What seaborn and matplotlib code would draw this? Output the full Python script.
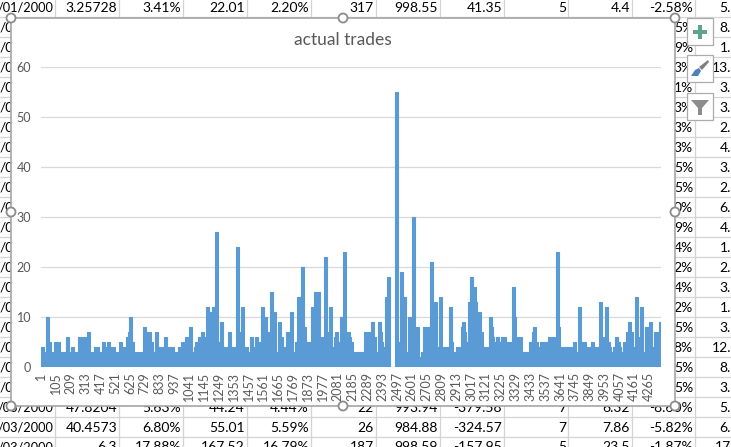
import numpy as np
import pandas as pd
import matplotlib
matplotlib.use('Agg')
import matplotlib.pyplot as plt
from matplotlib.patches import Rectangle, Circle, Polygon
import seaborn as sns

sns.set_style("white")
plt.rcParams['font.family'] = ['Lato', 'DejaVu Sans']

trade_counts = [
    4, 3, 10, 5, 2, 3, 5, 3, 6, 3, 4, 3, 6, 4, 6, 7, 2, 3, 4, 3, 5, 4, 5, 4, 3, 2, 5, 4, 3, 6, 7, 10, 5, 3, 2, 3,
    8, 7, 5, 3, 7, 2, 4, 6, 4, 3, 4, 5, 3, 6, 8, 3, 4, 5,
    6, 7, 6, 12, 11, 12, 0, 27, 5, 9, 4, 7, 4, 0, 24, 7, 6, 12, 3, 4, 3, 6, 4, 3, 6, 5, 12, 10, 3, 7, 15, 11, 3, 9,
    6, 3, 4, 7, 3, 11, 3, 5, 14, 7, 20, 8, 3, 5, 12, 15, 6, 2, 22, 7, 12, 4, 6, 7, 5, 10, 23, 3, 7, 6, 5,
    3, 7, 4, 9, 6, 3, 9, 7, 5, 4, 14, 18, 0, 55, 5, 2, 19, 14, 3, 10, 0, 30, 6, 8, 2, 3, 8, 6, 21, 6, 13, 4, 14, 3,
    4, 3, 12, 5, 3, 4, 8, 9, 7, 5, 3, 13, 18, 16, 13, 6, 11, 7, 4, 10, 8, 6, 5, 6, 5, 6, 5,
    5, 16, 10, 6, 3, 2, 3, 5, 7, 8, 5, 4, 5, 6, 4, 6, 0, 23, 8, 4, 3, 4, 5, 3, 12, 5, 4, 5, 4, 13, 4, 6, 12, 5, 4,
    3, 4, 6, 5, 4, 3, 5, 7, 9, 7, 4, 14, 6, 4, 12, 3, 8, 9, 4, 7, 9,
]
run_lengths = [
    3, 2, 3, 2, 1, 2, 6, 6, 3, 2, 3, 4, 3, 1, 5, 3, 1, 3, 5, 3, 3, 2, 3, 5, 3, 1, 3, 3, 1, 2, 1, 3, 2, 6, 1, 2,
    3, 5, 2, 2, 3, 1, 5, 3, 6, 4, 3, 3, 1, 4, 3, 2, 1, 3,
    3, 3, 2, 3, 3, 3, 0.4, 3, 2, 3, 5, 3, 4, 0.4, 3, 1, 1, 3, 1, 3, 2, 3, 1, 1, 3, 3, 3, 3, 1, 2, 3, 3, 2, 3,
    2, 1, 2, 3, 1, 3, 2, 2, 3, 1, 3, 2, 1, 4, 3, 6, 3, 1, 3, 2, 3, 2, 1, 3, 2, 3, 3, 1, 3, 1, 2,
    11, 6, 1, 3, 2, 2, 3, 1, 1, 2, 2, 3, 5, 3, 1, 1, 3, 3, 2, 3, 0.4, 3, 1, 3, 2, 2, 6, 1, 3, 1, 3, 2, 3, 1,
    5, 1, 3, 1, 3, 5, 1, 3, 1, 1, 1, 2, 3, 3, 1, 1, 3, 2, 6, 3, 1, 1, 2, 3, 2, 5, 4,
    2, 3, 1, 6, 1, 1, 5, 3, 1, 3, 2, 2, 8, 3, 1, 3, 0.4, 3, 1, 3, 1, 9, 3, 2, 3, 5, 5, 3, 5, 3, 1, 2, 3, 2, 1,
    2, 2, 3, 2, 1, 2, 3, 2, 3, 2, 2, 3, 1, 1, 3, 2, 4, 3, 2, 5, 2,
]
rows_per_unit = 7.04
tick_rows = list(range(1, 4266, 104))
y_ticks = [0, 10, 20, 30, 40, 50, 60]

# spreadsheet cells behind the chart
top_row = ['/01/2000', '3.25728', '3.41%', '22.01', '2.20%', '317', '998.55', '41.35', '5', '4.4', '-2.58%']
row_408 = ['/03/2000', '47.8204', '5.63%', '44.24', '4.44%', '22', '993.94', '-379.58', '7', '6.32', '-8.60%']
row_428 = ['/03/2000', '40.4573', '6.80%', '55.01', '5.59%', '26', '984.88', '-324.57', '7', '7.86', '-5.82%']
row_447 = ['/03/2000', '6.3', '17.88%', '167.52', '16.79%', '187', '998.59', '-157.95', '5', '23.5', '-1.87%']
side_pct = ['5%', '9%', '3%', '1%', '3%', '3%', '3%', '5%', '5%', '0%', '9%', '4%', '2%', '4%', '2%', '5%', '8%', '5%', '5%']
last_col = ['5.', '8.', '1.', '13.', '3.', '3.', '2.', '4.', '3.', '2.', '6.', '4.', '1.', '2.', '3.', '1.', '3.', '12.', '8.', '3.', '5.', '6.', '17']
col_lines = [55, 119, 183, 247, 311, 376, 440, 504, 568, 632, 695]

fig = plt.figure(figsize=(7.31, 4.47), dpi=100)

bg = fig.add_axes([0, 0, 1, 1])
bg.set_xlim(0, 731)
bg.set_ylim(447, 0)
bg.axis('off')
for x in col_lines:
    bg.axvline(x, color='#D4D4D4', lw=0.9, zorder=1)
for y in range(17, 447, 20):
    bg.axhline(y, color='#D4D4D4', lw=0.9, zorder=1)


def cell(x, y, s, ha='right', size=10):
    bg.text(x, y, s, ha=ha, va='center', fontsize=size, color='black', zorder=2)


for row_y, row in [(8, top_row), (408, row_408), (428, row_428), (447, row_447)]:
    for x, s in zip(col_lines, row):
        cell(x - 2, row_y, s, size=9.2 if x == col_lines[0] else 10)
for i in range(19):
    cell(0, 28 + 20 * i, '/0', ha='left')
    cell(693, 28 + 20 * i, side_pct[i])
for i, s in enumerate(last_col):
    cell(731, 8 + 20 * i if i < 22 else 447, s)

# chart frame, handles and side buttons
bg.add_patch(Rectangle((11, 18), 664, 388, fc='white', ec='#A6A6A6', lw=1.2, zorder=3))
for hx, hy in [(11, 18), (343, 18), (675, 18), (11, 212), (675, 212), (11, 406), (343, 406), (675, 406)]:
    bg.add_patch(Circle((hx, hy), 4.5, fc='white', ec='#8C8C8C', lw=1.3, zorder=5))
for by in [18, 55, 93]:
    bg.add_patch(Rectangle((687, by), 26, 27, fc='white', ec='#ABABAB', lw=0.9, zorder=4))
bg.add_patch(Rectangle((693, 29.5), 14, 4, fc='#5FA58C', ec='none', zorder=5))
bg.add_patch(Rectangle((698, 24.5), 4, 14, fc='#5FA58C', ec='none', zorder=5))
bg.add_patch(Polygon([[691, 76], [695, 70], [699, 68], [701, 71], [698, 76]], fc='#4F81BD', ec='none', zorder=5))
bg.add_patch(Polygon([[699, 67], [708, 60], [709, 62], [702, 70]], fc='#7F7F7F', ec='none', zorder=5))
bg.add_patch(Polygon([[691, 100], [709, 100], [702, 108], [702, 115], [698, 115], [698, 108]], fc='#8C8C8C', ec='none', zorder=5))
bg.text(343, 40, 'actual trades', ha='center', va='center', fontsize=12.5, color='#595959', zorder=5)

# the chart itself
ax = fig.add_axes([41 / 731, 1 - 366.7 / 447, 620 / 731, 300 / 447])
ax.patch.set_alpha(0)
starts = np.concatenate([[0], np.cumsum(run_lengths)]) * rows_per_unit + 1
df = pd.DataFrame({'row': starts, 'trades': trade_counts + [trade_counts[-1]]})

ax.fill_between(df['row'], df['trades'], step='post', color='#5B9BD5', lw=0, zorder=3)
sns.lineplot(x='row', y='trades', data=df, estimator=None, drawstyle='steps-post', color='#5B9BD5', lw=0.8, ax=ax, zorder=3)

ax.set_xlim(1, starts[-1])
ax.set_ylim(0, 60)
ax.set_xticks(tick_rows)
ax.set_xticklabels([str(t) for t in tick_rows], rotation=90, fontsize=9, color='#595959')
ax.set_yticks(y_ticks)
ax.set_yticklabels([str(t) for t in y_ticks], fontsize=9, color='#595959')
ax.tick_params(axis='both', length=0)
ax.tick_params(axis='x', pad=4)
ax.tick_params(axis='y', pad=7)
ax.set_xlabel('')
ax.set_ylabel('')
ax.grid(axis='y', color='#D9D9D9', lw=0.9)
ax.set_axisbelow(True)
sns.despine(ax=ax, left=True, bottom=True)

plt.savefig('out.png', dpi=100)
